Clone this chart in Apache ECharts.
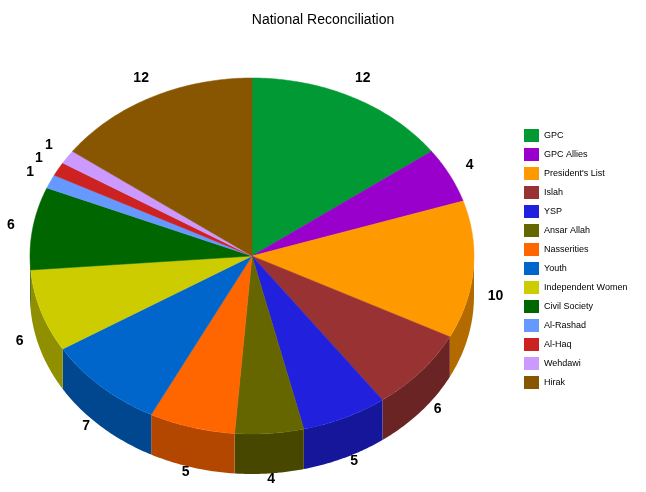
<!DOCTYPE html>
<html><head><meta charset="utf-8">
<script src="https://cdn.jsdelivr.net/npm/echarts@6/dist/echarts.min.js"></script>
<style>html,body{margin:0;padding:0;background:#fff}#c{width:646px;height:492px}</style>
</head><body><div id="c"></div>
<script>
const categories=['GPC','GPC Allies',"President's List",'Islah','YSP','Ansar Allah','Nasserities','Youth','Independent Women','Civil Society','Al-Rashad','Al-Haq','Wehdawi','Hirak'];
const values=[12,4,10,6,5,4,5,7,6,6,1,1,1,12];
const colors=['#009933','#9900cc','#ff9900','#993333','#2020dd','#666600','#ff6600','#0066cc','#cccc00','#006600','#6699ff','#cc2222','#cc99ff','#885500'];
function dark(h,f){const n=parseInt(h.slice(1),16);const r=Math.round((n>>16&255)*f),g=Math.round((n>>8&255)*f),b=Math.round((n&255)*f);return 'rgb('+r+','+g+','+b+')';}
const total=values.reduce((a,b)=>a+b,0);
const cx=252,cy=256,rx=222,ry=178,depth=40;
function pt(t,dy){return [cx+rx*Math.sin(t),cy-ry*Math.cos(t)+(dy||0)];}
function renderAll(params,api){
  if(params.dataIndex!==0) return;
  const sides=[],tops=[],labels=[];
  let a=0;
  values.forEach((v,i)=>{
    const a0=a,a1=a+v/total*2*Math.PI;a=a1;
    const s0=Math.max(a0,Math.PI/2),s1=Math.min(a1,1.5*Math.PI);
    if(s1>s0){
      const p=[];const n=40;
      for(let k=0;k<=n;k++)p.push(pt(s0+(s1-s0)*k/n,0));
      for(let k=n;k>=0;k--)p.push(pt(s0+(s1-s0)*k/n,depth));
      sides.push({type:'polygon',shape:{points:p},style:{fill:dark(colors[i],0.7)}});
    }
    const p=[[cx,cy]];const n=60;
    for(let k=0;k<=n;k++)p.push(pt(a0+(a1-a0)*k/n,0));
    tops.push({type:'polygon',shape:{points:p},style:{fill:colors[i],stroke:colors[i],lineWidth:0.5}});
    const m=(a0+a1)/2;
    const lp=[cx+rx*1.1*Math.sin(m),cy-ry*1.12*Math.cos(m)+(Math.cos(m)<0?depth*0.6:0)];
    labels.push({type:'text',style:{text:String(v),x:lp[0],y:lp[1],fill:'#000',font:'bold 14px Arial, Liberation Sans, sans-serif',align:'center',verticalAlign:'middle'}});
  });
  return {type:'group',children:sides.concat(tops,labels)};
}
const chart=echarts.init(document.getElementById('c'));
chart.setOption({
  animation:false,
  title:{text:'National Reconciliation',left:'center',top:8,textStyle:{fontSize:14,fontWeight:'normal',fontFamily:'Liberation Sans, Arial',color:'#000'}},
  legend:{orient:'vertical',left:519,top:124,itemWidth:15,itemHeight:13,itemGap:6,icon:'rect',textStyle:{fontSize:9,fontFamily:'Liberation Sans, Arial',color:'#000'},data:categories},
  series:[
    {type:'custom',coordinateSystem:'none',renderItem:renderAll,data:values},
    {type:'pie',radius:[0,0],center:[-100,-100],label:{show:false},silent:true,
     data:categories.map((c,i)=>({name:c,value:values[i],itemStyle:{color:colors[i]}}))}
  ]
});
</script></body></html>
